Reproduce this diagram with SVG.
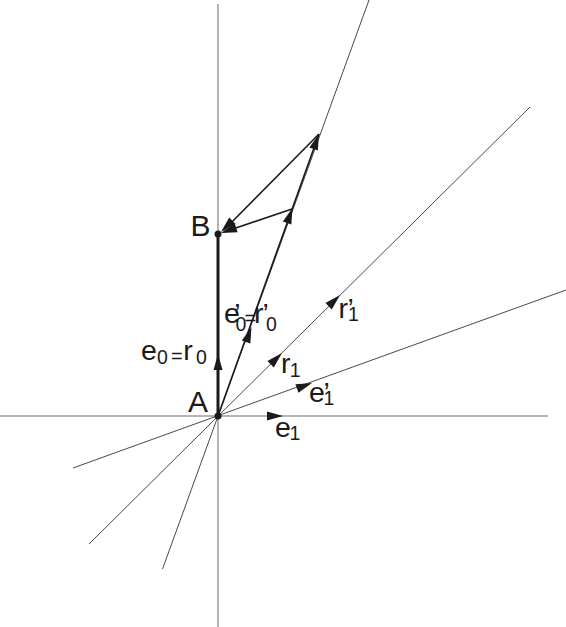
<svg xmlns="http://www.w3.org/2000/svg" width="566" height="627" viewBox="0 0 566 627">
<style>
.axis{stroke:#6a6a6a;stroke-width:1;fill:none}
.thin{stroke:#333;stroke-width:0.9;fill:none}
.vec{stroke:#1a1a1a;stroke-width:1.6;fill:none}
.bold{stroke:#1a1a1a;stroke-width:3;fill:none}
.ah{fill:#1a1a1a}
text{font-family:"Liberation Sans",Arial,sans-serif;fill:#1a1a1a}
.big{font-size:30px}
.m{font-size:28.5px}
.s{font-size:19.5px}
.eq{font-size:20px}
</style>
<defs>
<path id="ah" d="M0,0 L-16,-4.5 L-16,4.5 Z"/>
</defs>
<rect width="566" height="627" fill="#fff"/>
<g id="connectors">
<line class="axis" x1="0" y1="416" x2="548" y2="416"/>
<line class="axis" x1="218" y1="4" x2="218" y2="627"/>
<line class="thin" x1="162.5" y1="569" x2="369" y2="0"/>
<line class="thin" x1="89" y1="544" x2="530" y2="107"/>
<line class="thin" x1="73" y1="468" x2="566" y2="290"/>
<line class="bold" x1="218" y1="416" x2="218" y2="234"/>
<line class="vec" x1="218" y1="416" x2="319" y2="134"/>
<line class="vec" x1="292" y1="209" x2="224" y2="232"/>
<line class="vec" x1="319" y1="134" x2="224" y2="230"/>
<use href="#ah" class="ah" transform="translate(218,354) rotate(-90)"/>
<use href="#ah" class="ah" transform="translate(251.5,327) rotate(-70.3)"/>
<use href="#ah" class="ah" transform="translate(292.5,208) rotate(-70.3)"/>
<use href="#ah" class="ah" transform="translate(319,134) rotate(-70.3)"/>
<use href="#ah" class="ah" transform="translate(221,233) rotate(161.3)"/>
<use href="#ah" class="ah" transform="translate(221,232) rotate(135.3)"/>
<use href="#ah" class="ah" transform="translate(282,353) rotate(-44.7)"/>
<use href="#ah" class="ah" transform="translate(340,295) rotate(-44.7)"/>
<use href="#ah" class="ah" transform="translate(312,383) rotate(-19.8)"/>
<use href="#ah" class="ah" transform="translate(283,416) rotate(0)"/>
</g>
<g id="A">
<circle cx="218" cy="416" r="3.5" fill="#1a1a1a"/>
<text class="big" x="188" y="411.5">A</text>
</g>
<g id="B">
<circle cx="218" cy="234" r="3.5" fill="#1a1a1a"/>
<text class="big" x="190.5" y="236">B</text>
</g>
<g id="label-e0-r0">
<text><tspan class="m" x="141" y="360">e</tspan><tspan class="s" x="157" y="364">0</tspan><tspan class="eq" x="171" y="363">=</tspan><tspan class="m" x="183.2" y="360">r</tspan><tspan class="s" x="196" y="364">0</tspan></text>
</g>
<g id="label-e0p-r0p">
<text><tspan class="m" x="224" y="323">e</tspan><tspan class="m" x="234.3" y="323">’</tspan><tspan class="s" x="235.5" y="331">0</tspan><tspan class="eq" x="244.5" y="325">=</tspan><tspan class="m" x="254" y="323">r</tspan><tspan class="m" x="262.5" y="323">’</tspan><tspan class="s" x="266" y="331">0</tspan></text>
</g>
<g id="label-r1p">
<text><tspan class="m" x="338.5" y="318">r</tspan><tspan class="m" x="347.5" y="318">’</tspan><tspan class="s" x="348" y="321">1</tspan></text>
</g>
<g id="label-r1">
<text><tspan class="m" x="281" y="372.7">r</tspan><tspan class="s" x="289.7" y="376.7">1</tspan></text>
</g>
<g id="label-e1p">
<text><tspan class="m" x="309" y="401.7">e</tspan><tspan class="m" x="323.5" y="401.7">’</tspan><tspan class="s" x="323.5" y="405">1</tspan></text>
</g>
<g id="label-e1">
<text><tspan class="m" x="275" y="436.7">e</tspan><tspan class="s" x="289.5" y="440">1</tspan></text>
</g>
</svg>
